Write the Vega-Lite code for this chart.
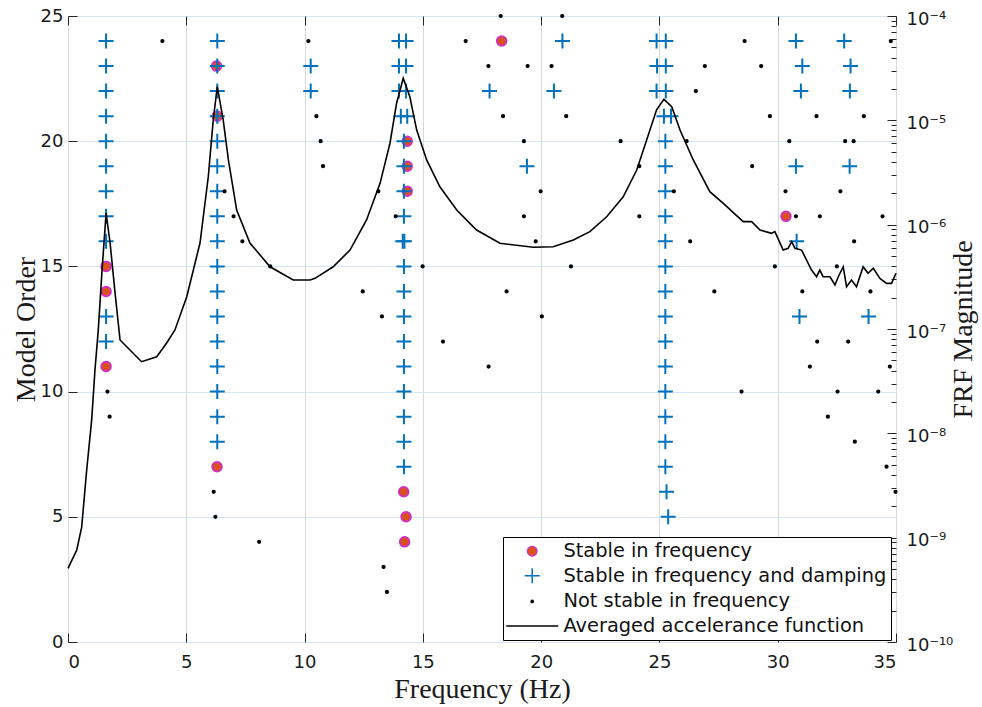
{
  "$schema": "https://vega.github.io/schema/vega-lite/v6.json",
  "width": 828,
  "height": 626,
  "autosize": {"type": "none"},
  "padding": {"left": 68, "top": 16, "right": 86, "bottom": 65},
  "background": "white",
  "datasets": {
    "pts": [
      {"f": 1.61, "o": 15, "s": "Stable in frequency"},
      {"f": 1.61, "o": 14, "s": "Stable in frequency"},
      {"f": 1.61, "o": 11, "s": "Stable in frequency"},
      {"f": 6.28, "o": 23, "s": "Stable in frequency"},
      {"f": 6.31, "o": 21, "s": "Stable in frequency"},
      {"f": 6.3, "o": 7, "s": "Stable in frequency"},
      {"f": 14.34, "o": 20, "s": "Stable in frequency"},
      {"f": 14.34, "o": 19, "s": "Stable in frequency"},
      {"f": 14.34, "o": 18, "s": "Stable in frequency"},
      {"f": 14.19, "o": 6, "s": "Stable in frequency"},
      {"f": 14.29, "o": 5, "s": "Stable in frequency"},
      {"f": 14.23, "o": 4, "s": "Stable in frequency"},
      {"f": 18.33, "o": 24, "s": "Stable in frequency"},
      {"f": 30.35, "o": 17, "s": "Stable in frequency"},

      {"f": 1.61, "o": 24, "s": "Stable in frequency and damping"},
      {"f": 1.61, "o": 23, "s": "Stable in frequency and damping"},
      {"f": 1.61, "o": 22, "s": "Stable in frequency and damping"},
      {"f": 1.61, "o": 21, "s": "Stable in frequency and damping"},
      {"f": 1.61, "o": 20, "s": "Stable in frequency and damping"},
      {"f": 1.61, "o": 19, "s": "Stable in frequency and damping"},
      {"f": 1.61, "o": 18, "s": "Stable in frequency and damping"},
      {"f": 1.61, "o": 17, "s": "Stable in frequency and damping"},
      {"f": 1.61, "o": 16, "s": "Stable in frequency and damping"},
      {"f": 1.61, "o": 13, "s": "Stable in frequency and damping"},
      {"f": 1.61, "o": 12, "s": "Stable in frequency and damping"},
      {"f": 6.31, "o": 24, "s": "Stable in frequency and damping"},
      {"f": 6.31, "o": 23, "s": "Stable in frequency and damping"},
      {"f": 6.31, "o": 22, "s": "Stable in frequency and damping"},
      {"f": 6.31, "o": 21, "s": "Stable in frequency and damping"},
      {"f": 6.31, "o": 20, "s": "Stable in frequency and damping"},
      {"f": 6.31, "o": 19, "s": "Stable in frequency and damping"},
      {"f": 6.31, "o": 18, "s": "Stable in frequency and damping"},
      {"f": 6.31, "o": 17, "s": "Stable in frequency and damping"},
      {"f": 6.31, "o": 16, "s": "Stable in frequency and damping"},
      {"f": 6.31, "o": 15, "s": "Stable in frequency and damping"},
      {"f": 6.31, "o": 14, "s": "Stable in frequency and damping"},
      {"f": 6.31, "o": 13, "s": "Stable in frequency and damping"},
      {"f": 6.31, "o": 12, "s": "Stable in frequency and damping"},
      {"f": 6.31, "o": 11, "s": "Stable in frequency and damping"},
      {"f": 6.31, "o": 10, "s": "Stable in frequency and damping"},
      {"f": 6.31, "o": 9, "s": "Stable in frequency and damping"},
      {"f": 6.31, "o": 8, "s": "Stable in frequency and damping"},
      {"f": 13.99, "o": 24, "s": "Stable in frequency and damping"},
      {"f": 14.29, "o": 24, "s": "Stable in frequency and damping"},
      {"f": 13.99, "o": 23, "s": "Stable in frequency and damping"},
      {"f": 14.29, "o": 23, "s": "Stable in frequency and damping"},
      {"f": 13.99, "o": 22, "s": "Stable in frequency and damping"},
      {"f": 14.29, "o": 22, "s": "Stable in frequency and damping"},
      {"f": 14.07, "o": 21, "s": "Stable in frequency and damping"},
      {"f": 14.34, "o": 21, "s": "Stable in frequency and damping"},
      {"f": 14.2, "o": 20, "s": "Stable in frequency and damping"},
      {"f": 14.2, "o": 19, "s": "Stable in frequency and damping"},
      {"f": 14.2, "o": 18, "s": "Stable in frequency and damping"},
      {"f": 14.2, "o": 17, "s": "Stable in frequency and damping"},
      {"f": 14.15, "o": 16, "s": "Stable in frequency and damping"},
      {"f": 14.22, "o": 16, "s": "Stable in frequency and damping"},
      {"f": 14.2, "o": 15, "s": "Stable in frequency and damping"},
      {"f": 14.2, "o": 14, "s": "Stable in frequency and damping"},
      {"f": 14.2, "o": 13, "s": "Stable in frequency and damping"},
      {"f": 14.2, "o": 12, "s": "Stable in frequency and damping"},
      {"f": 14.2, "o": 11, "s": "Stable in frequency and damping"},
      {"f": 14.2, "o": 10, "s": "Stable in frequency and damping"},
      {"f": 14.2, "o": 9, "s": "Stable in frequency and damping"},
      {"f": 14.2, "o": 8, "s": "Stable in frequency and damping"},
      {"f": 14.2, "o": 7, "s": "Stable in frequency and damping"},
      {"f": 24.88, "o": 24, "s": "Stable in frequency and damping"},
      {"f": 25.27, "o": 24, "s": "Stable in frequency and damping"},
      {"f": 24.9, "o": 23, "s": "Stable in frequency and damping"},
      {"f": 25.27, "o": 23, "s": "Stable in frequency and damping"},
      {"f": 24.88, "o": 22, "s": "Stable in frequency and damping"},
      {"f": 25.27, "o": 22, "s": "Stable in frequency and damping"},
      {"f": 25.19, "o": 21, "s": "Stable in frequency and damping"},
      {"f": 25.49, "o": 21, "s": "Stable in frequency and damping"},
      {"f": 25.25, "o": 20, "s": "Stable in frequency and damping"},
      {"f": 25.25, "o": 19, "s": "Stable in frequency and damping"},
      {"f": 25.25, "o": 18, "s": "Stable in frequency and damping"},
      {"f": 25.25, "o": 17, "s": "Stable in frequency and damping"},
      {"f": 25.25, "o": 16, "s": "Stable in frequency and damping"},
      {"f": 25.25, "o": 15, "s": "Stable in frequency and damping"},
      {"f": 25.25, "o": 14, "s": "Stable in frequency and damping"},
      {"f": 25.25, "o": 13, "s": "Stable in frequency and damping"},
      {"f": 25.25, "o": 12, "s": "Stable in frequency and damping"},
      {"f": 25.25, "o": 11, "s": "Stable in frequency and damping"},
      {"f": 25.25, "o": 10, "s": "Stable in frequency and damping"},
      {"f": 25.25, "o": 9, "s": "Stable in frequency and damping"},
      {"f": 25.25, "o": 8, "s": "Stable in frequency and damping"},
      {"f": 25.25, "o": 7, "s": "Stable in frequency and damping"},
      {"f": 25.3, "o": 6, "s": "Stable in frequency and damping"},
      {"f": 25.37, "o": 5, "s": "Stable in frequency and damping"},
      {"f": 10.26, "o": 23, "s": "Stable in frequency and damping"},
      {"f": 10.26, "o": 22, "s": "Stable in frequency and damping"},
      {"f": 17.82, "o": 22, "s": "Stable in frequency and damping"},
      {"f": 20.9, "o": 24, "s": "Stable in frequency and damping"},
      {"f": 20.54, "o": 22, "s": "Stable in frequency and damping"},
      {"f": 19.4, "o": 19, "s": "Stable in frequency and damping"},
      {"f": 30.77, "o": 24, "s": "Stable in frequency and damping"},
      {"f": 32.81, "o": 24, "s": "Stable in frequency and damping"},
      {"f": 31.04, "o": 23, "s": "Stable in frequency and damping"},
      {"f": 33.08, "o": 23, "s": "Stable in frequency and damping"},
      {"f": 30.98, "o": 22, "s": "Stable in frequency and damping"},
      {"f": 33.05, "o": 22, "s": "Stable in frequency and damping"},
      {"f": 30.77, "o": 19, "s": "Stable in frequency and damping"},
      {"f": 33.04, "o": 19, "s": "Stable in frequency and damping"},
      {"f": 30.8, "o": 16, "s": "Stable in frequency and damping"},
      {"f": 30.92, "o": 13, "s": "Stable in frequency and damping"},
      {"f": 33.84, "o": 13, "s": "Stable in frequency and damping"},

      {"f": 1.67, "o": 10, "s": "Not stable in frequency"},
      {"f": 1.76, "o": 9, "s": "Not stable in frequency"},
      {"f": 3.99, "o": 24, "s": "Not stable in frequency"},
      {"f": 6.16, "o": 6, "s": "Not stable in frequency"},
      {"f": 6.23, "o": 5, "s": "Not stable in frequency"},
      {"f": 8.08, "o": 4, "s": "Not stable in frequency"},
      {"f": 6.62, "o": 18, "s": "Not stable in frequency"},
      {"f": 7.0, "o": 17, "s": "Not stable in frequency"},
      {"f": 7.37, "o": 16, "s": "Not stable in frequency"},
      {"f": 8.55, "o": 15, "s": "Not stable in frequency"},
      {"f": 10.16, "o": 24, "s": "Not stable in frequency"},
      {"f": 10.5, "o": 21, "s": "Not stable in frequency"},
      {"f": 10.68, "o": 20, "s": "Not stable in frequency"},
      {"f": 10.78, "o": 19, "s": "Not stable in frequency"},
      {"f": 13.12, "o": 18, "s": "Not stable in frequency"},
      {"f": 13.85, "o": 17, "s": "Not stable in frequency"},
      {"f": 14.99, "o": 15, "s": "Not stable in frequency"},
      {"f": 12.46, "o": 14, "s": "Not stable in frequency"},
      {"f": 13.27, "o": 13, "s": "Not stable in frequency"},
      {"f": 13.34, "o": 3, "s": "Not stable in frequency"},
      {"f": 13.48, "o": 2, "s": "Not stable in frequency"},
      {"f": 15.85, "o": 12, "s": "Not stable in frequency"},
      {"f": 17.78, "o": 11, "s": "Not stable in frequency"},
      {"f": 18.29, "o": 25, "s": "Not stable in frequency"},
      {"f": 20.89, "o": 25, "s": "Not stable in frequency"},
      {"f": 16.81, "o": 24, "s": "Not stable in frequency"},
      {"f": 17.77, "o": 23, "s": "Not stable in frequency"},
      {"f": 19.43, "o": 23, "s": "Not stable in frequency"},
      {"f": 20.44, "o": 23, "s": "Not stable in frequency"},
      {"f": 18.39, "o": 21, "s": "Not stable in frequency"},
      {"f": 21.06, "o": 21, "s": "Not stable in frequency"},
      {"f": 19.27, "o": 20, "s": "Not stable in frequency"},
      {"f": 19.98, "o": 18, "s": "Not stable in frequency"},
      {"f": 19.27, "o": 17, "s": "Not stable in frequency"},
      {"f": 19.77, "o": 16, "s": "Not stable in frequency"},
      {"f": 21.26, "o": 15, "s": "Not stable in frequency"},
      {"f": 18.54, "o": 14, "s": "Not stable in frequency"},
      {"f": 20.03, "o": 13, "s": "Not stable in frequency"},
      {"f": 28.6, "o": 24, "s": "Not stable in frequency"},
      {"f": 34.78, "o": 24, "s": "Not stable in frequency"},
      {"f": 26.92, "o": 23, "s": "Not stable in frequency"},
      {"f": 29.3, "o": 23, "s": "Not stable in frequency"},
      {"f": 26.54, "o": 22, "s": "Not stable in frequency"},
      {"f": 29.67, "o": 21, "s": "Not stable in frequency"},
      {"f": 31.64, "o": 21, "s": "Not stable in frequency"},
      {"f": 33.64, "o": 21, "s": "Not stable in frequency"},
      {"f": 23.36, "o": 20, "s": "Not stable in frequency"},
      {"f": 26.15, "o": 20, "s": "Not stable in frequency"},
      {"f": 30.49, "o": 20, "s": "Not stable in frequency"},
      {"f": 32.85, "o": 20, "s": "Not stable in frequency"},
      {"f": 33.21, "o": 20, "s": "Not stable in frequency"},
      {"f": 24.15, "o": 19, "s": "Not stable in frequency"},
      {"f": 28.92, "o": 19, "s": "Not stable in frequency"},
      {"f": 25.61, "o": 18, "s": "Not stable in frequency"},
      {"f": 30.33, "o": 18, "s": "Not stable in frequency"},
      {"f": 32.65, "o": 18, "s": "Not stable in frequency"},
      {"f": 24.15, "o": 17, "s": "Not stable in frequency"},
      {"f": 30.77, "o": 17, "s": "Not stable in frequency"},
      {"f": 31.78, "o": 17, "s": "Not stable in frequency"},
      {"f": 34.43, "o": 17, "s": "Not stable in frequency"},
      {"f": 26.3, "o": 16, "s": "Not stable in frequency"},
      {"f": 33.23, "o": 16, "s": "Not stable in frequency"},
      {"f": 29.88, "o": 15, "s": "Not stable in frequency"},
      {"f": 32.5, "o": 15, "s": "Not stable in frequency"},
      {"f": 27.32, "o": 14, "s": "Not stable in frequency"},
      {"f": 31.04, "o": 14, "s": "Not stable in frequency"},
      {"f": 33.92, "o": 14, "s": "Not stable in frequency"},
      {"f": 31.67, "o": 12, "s": "Not stable in frequency"},
      {"f": 32.98, "o": 12, "s": "Not stable in frequency"},
      {"f": 31.36, "o": 11, "s": "Not stable in frequency"},
      {"f": 34.74, "o": 11, "s": "Not stable in frequency"},
      {"f": 28.47, "o": 10, "s": "Not stable in frequency"},
      {"f": 32.53, "o": 10, "s": "Not stable in frequency"},
      {"f": 34.25, "o": 10, "s": "Not stable in frequency"},
      {"f": 32.12, "o": 9, "s": "Not stable in frequency"},
      {"f": 33.26, "o": 8, "s": "Not stable in frequency"},
      {"f": 34.6, "o": 7, "s": "Not stable in frequency"},
      {"f": 34.98, "o": 6, "s": "Not stable in frequency"}
    ],
    "frf": [
      {"f": 0, "m": 5.08e-10}, {"f": 0.37, "m": 7.62e-10}, {"f": 0.58, "m": 1.27e-9},
      {"f": 0.79, "m": 4.45e-9}, {"f": 1.0, "m": 1.34e-8}, {"f": 1.14, "m": 4.05e-8},
      {"f": 1.28, "m": 9.8e-8}, {"f": 1.44, "m": 3.67e-7}, {"f": 1.61, "m": 1.29e-6},
      {"f": 1.78, "m": 6.67e-7}, {"f": 1.99, "m": 2.21e-7}, {"f": 2.2, "m": 7.85e-8},
      {"f": 2.62, "m": 6.29e-8}, {"f": 3.11, "m": 4.86e-8}, {"f": 3.75, "m": 5.42e-8},
      {"f": 4.17, "m": 7.34e-8}, {"f": 4.52, "m": 9.78e-8}, {"f": 5.02, "m": 2.04e-7},
      {"f": 5.58, "m": 6.67e-7}, {"f": 5.93, "m": 2.88e-6}, {"f": 6.14, "m": 1.01e-5},
      {"f": 6.31, "m": 2.1e-5}, {"f": 6.56, "m": 1.01e-5}, {"f": 6.78, "m": 4.17e-6},
      {"f": 7.13, "m": 1.38e-6}, {"f": 7.69, "m": 6.67e-7}, {"f": 8.54, "m": 3.95e-7},
      {"f": 9.52, "m": 2.95e-7}, {"f": 10.23, "m": 2.95e-7}, {"f": 10.44, "m": 3.06e-7},
      {"f": 11.21, "m": 3.95e-7}, {"f": 11.92, "m": 5.71e-7}, {"f": 12.62, "m": 1.11e-6},
      {"f": 13.19, "m": 2.49e-6}, {"f": 13.61, "m": 6.03e-6}, {"f": 13.89, "m": 1.46e-5},
      {"f": 14.17, "m": 2.53e-5}, {"f": 14.45, "m": 1.68e-5}, {"f": 14.74, "m": 8.07e-6},
      {"f": 15.16, "m": 4.17e-6}, {"f": 15.72, "m": 2.31e-6}, {"f": 16.43, "m": 1.38e-6},
      {"f": 17.27, "m": 8.89e-7}, {"f": 18.26, "m": 6.63e-7}, {"f": 19.67, "m": 6.07e-7},
      {"f": 20.51, "m": 6.15e-7}, {"f": 21.36, "m": 7.13e-7}, {"f": 22.06, "m": 8.57e-7},
      {"f": 22.77, "m": 1.19e-6}, {"f": 23.47, "m": 1.85e-6}, {"f": 24.04, "m": 3.34e-6},
      {"f": 24.46, "m": 6.48e-6}, {"f": 24.88, "m": 1.26e-5}, {"f": 25.19, "m": 1.59e-5},
      {"f": 25.52, "m": 1.35e-5}, {"f": 25.87, "m": 8.07e-6}, {"f": 26.43, "m": 4.17e-6},
      {"f": 27.13, "m": 2.07e-6}, {"f": 27.7, "m": 1.6e-6}, {"f": 28.54, "m": 1.07e-6},
      {"f": 28.9, "m": 1.07e-6}, {"f": 29.25, "m": 8.89e-7}, {"f": 29.74, "m": 8.26e-7},
      {"f": 29.88, "m": 8.57e-7}, {"f": 30.23, "m": 5.71e-7}, {"f": 30.44, "m": 5.93e-7},
      {"f": 30.59, "m": 6.87e-7}, {"f": 30.73, "m": 5.93e-7}, {"f": 31.01, "m": 5.71e-7},
      {"f": 31.43, "m": 3.67e-7}, {"f": 31.64, "m": 3.17e-7}, {"f": 31.78, "m": 3.67e-7},
      {"f": 31.92, "m": 3.17e-7}, {"f": 32.21, "m": 3.17e-7}, {"f": 32.42, "m": 2.64e-7},
      {"f": 32.56, "m": 3.17e-7}, {"f": 32.77, "m": 3.95e-7}, {"f": 32.91, "m": 2.54e-7},
      {"f": 33.12, "m": 2.95e-7}, {"f": 33.33, "m": 2.54e-7}, {"f": 33.61, "m": 3.95e-7},
      {"f": 33.82, "m": 3.42e-7}, {"f": 34.04, "m": 3.82e-7}, {"f": 34.32, "m": 3.06e-7},
      {"f": 34.6, "m": 2.74e-7}, {"f": 34.81, "m": 2.74e-7}, {"f": 35.0, "m": 3.42e-7}
    ]
  },
  "config": {
    "view": {"stroke": "black", "strokeWidth": 1},
    "axis": {
      "labelFont": "DejaVu Sans",
      "labelFontSize": 18,
      "labelColor": "#1a1a1a",
      "titleFont": "Liberation Serif",
      "titleFontSize": 28,
      "titleFontWeight": "normal",
      "titleColor": "#1a1a1a",
      "domain": false,
      "tickColor": "#262626",
      "tickWidth": 1
    },
    "legend": {
      "orient": "none",
      "legendX": 435,
      "legendY": 521,
      "strokeColor": "black",
      "fillColor": "white",
      "padding": 4.5,
      "labelFont": "DejaVu Sans",
      "labelFontSize": 19.4,
      "labelColor": "#111111",
      "rowPadding": 3.6,
      "symbolOffset": 15,
      "labelOffset": 21.5,
      "labelLimit": 400
    }
  },
  "layer": [
    {
      "data": {"name": "pts"},
      "mark": {"type": "point", "filled": true, "strokeWidth": 2, "opacity": 1},
      "encoding": {
        "x": {
          "field": "f", "type": "quantitative",
          "scale": {"domain": [0, 35], "nice": false},
          "axis": {
            "title": "Frequency (Hz)", "values": [0, 5, 10, 15, 20, 25, 30, 35],
            "grid": true, "gridColor": "#d9d9d9", "tickSize": -9,
            "labelPadding": 20, "titlePadding": 4
          }
        },
        "y": {
          "field": "o", "type": "quantitative",
          "scale": {"domain": [0, 25], "nice": false},
          "axis": {
            "title": "Model Order", "values": [0, 5, 10, 15, 20, 25],
            "grid": true, "gridColor": "#d8e6f3", "tickSize": -9,
            "labelPadding": 14, "titlePadding": 0
          }
        },
        "shape": {
          "field": "s", "type": "nominal",
          "scale": {
            "domain": ["Stable in frequency", "Stable in frequency and damping", "Not stable in frequency", "Averaged accelerance function"],
            "range": ["circle", "M-1,0H1M0,-1V1", "circle", "M-4,0H4"]
          },
          "legend": {"title": null}
        },
        "fill": {
          "field": "s", "type": "nominal",
          "scale": {
            "domain": ["Stable in frequency", "Stable in frequency and damping", "Not stable in frequency", "Averaged accelerance function"],
            "range": ["#d95319", "transparent", "#000000", "transparent"]
          },
          "legend": {"title": null}
        },
        "stroke": {
          "field": "s", "type": "nominal",
          "scale": {
            "domain": ["Stable in frequency", "Stable in frequency and damping", "Not stable in frequency", "Averaged accelerance function"],
            "range": ["#d22fc0", "#0072bd", "#000000", "#000000"]
          },
          "legend": {"title": null}
        },
        "size": {
          "field": "s", "type": "ordinal",
          "scale": {
            "type": "ordinal",
            "domain": ["Stable in frequency", "Stable in frequency and damping", "Not stable in frequency", "Averaged accelerance function"],
            "range": [90, 225, 5, 169]
          },
          "legend": {"title": null}
        }
      }
    },
    {
      "data": {"name": "frf"},
      "mark": {"type": "line", "strokeWidth": 1.6},
      "encoding": {
        "x": {
          "field": "f", "type": "quantitative",
          "scale": {"domain": [0, 35], "nice": false},
          "axis": {
            "orient": "top", "title": null, "labels": false, "grid": false,
            "values": [0, 5, 10, 15, 20, 25, 30, 35], "tickSize": -9
          }
        },
        "y": {
          "field": "m", "type": "quantitative",
          "scale": {"type": "log", "domain": [1e-10, 1e-4], "nice": false},
          "axis": {
            "orient": "right", "title": "FRF Magnitude", "grid": false,
            "values": [1e-10, 1e-9, 1e-8, 1e-7, 1e-6, 1e-5, 1e-4],
            "tickSize": -9, "labelPadding": 19, "labelOffset": 3, "titlePadding": 25, "titleAngle": 270,
            "labelExpr": "round(log(datum.value)/LN10) == -4 ? '10⁻⁴' : round(log(datum.value)/LN10) == -5 ? '10⁻⁵' : round(log(datum.value)/LN10) == -6 ? '10⁻⁶' : round(log(datum.value)/LN10) == -7 ? '10⁻⁷' : round(log(datum.value)/LN10) == -8 ? '10⁻⁸' : round(log(datum.value)/LN10) == -9 ? '10⁻⁹' : '10⁻¹⁰'"
          }
        },
        "stroke": {
          "datum": "Averaged accelerance function", "type": "nominal",
          "scale": {
            "domain": ["Stable in frequency", "Stable in frequency and damping", "Not stable in frequency", "Averaged accelerance function"],
            "range": ["#d22fc0", "#0072bd", "#000000", "#000000"]
          },
          "legend": {"title": null}
        }
      }
    },
    {
      "data": {"name": "frf"},
      "mark": {"type": "point", "opacity": 0},
      "encoding": {
        "x": {"field": "f", "type": "quantitative", "scale": {"domain": [0, 35], "nice": false}, "axis": null},
        "y": {
          "field": "m", "type": "quantitative",
          "scale": {"type": "log", "domain": [1e-10, 1e-4], "nice": false},
          "axis": {
            "orient": "right", "title": null, "labels": false, "grid": false, "tickSize": -5,
            "values": [2e-10, 3e-10, 4e-10, 5e-10, 6e-10, 7e-10, 8e-10, 9e-10,
                       2e-9, 3e-9, 4e-9, 5e-9, 6e-9, 7e-9, 8e-9, 9e-9,
                       2e-8, 3e-8, 4e-8, 5e-8, 6e-8, 7e-8, 8e-8, 9e-8,
                       2e-7, 3e-7, 4e-7, 5e-7, 6e-7, 7e-7, 8e-7, 9e-7,
                       2e-6, 3e-6, 4e-6, 5e-6, 6e-6, 7e-6, 8e-6, 9e-6,
                       2e-5, 3e-5, 4e-5, 5e-5, 6e-5, 7e-5, 8e-5, 9e-5]
          }
        }
      }
    }
  ],
  "resolve": {"scale": {"y": "independent"}, "axis": {"x": "independent", "y": "independent"}}
}
